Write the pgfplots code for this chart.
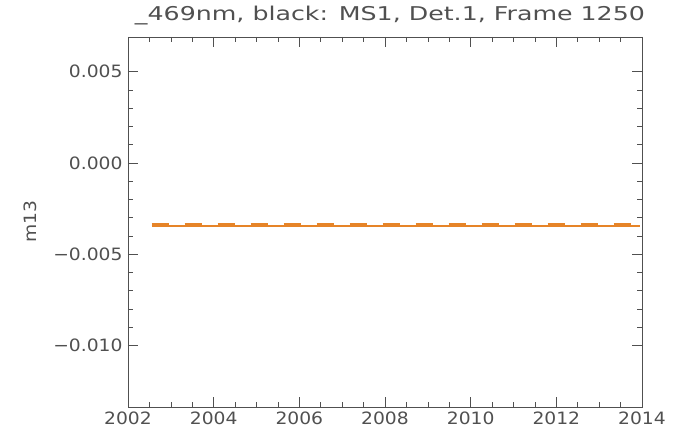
\documentclass[border=0pt]{standalone}
\usepackage{fontspec}
\setmainfont{DejaVu Sans}
\newfontfamily\hfont[FakeStretch=1.1]{DejaVu Sans}
\newfontfamily\tfont[FakeStretch=1.33]{DejaVu Sans}
\usepackage{pgfplots}
\pgfplotsset{compat=1.18}
\definecolor{lc}{RGB}{230,132,40}
\definecolor{tc}{RGB}{80,80,80}
\begin{document}
\begin{tikzpicture}
\useasboundingbox (-128pt,-31pt) rectangle (547pt,407pt);
\begin{axis}[
  scale only axis, width=514pt, height=370pt,
  xmin=2002, xmax=2014, ymin=-0.01337, ymax=0.0069,
  xtick={2002,2004,2006,2008,2010,2012,2014},
  xticklabels={2002,2004,2006,2008,2010,2012,2014},
  minor x tick num=3,
  ytick={-0.010,-0.005,0,0.005},
  yticklabels={−0.010,−0.005,0.000,0.005},
  minor y tick num=4,
  tick align=inside, major tick length=10pt, minor tick length=5pt,
  axis line style={tc, line width=0.8pt},
  every tick/.style={tc, line width=0.6pt},
  ticklabel style={font=\hfont\fontsize{17}{20}\selectfont, text=tc},
  xticklabel style={yshift=-1pt},
  yticklabel style={xshift=-2pt},
  scaled y ticks=false,
  clip=false,
]
\addplot[lc, line width=1.2pt] coordinates {
 (2002.55,-0.00345) (2004,-0.00345) (2006,-0.00345) (2008,-0.00345) (2010,-0.00345) (2012,-0.00345) (2013.95,-0.00345)
};
\addplot[lc, line width=3.5pt, dash pattern=on 17pt off 16pt] coordinates {
 (2002.55,-0.00338) (2004,-0.00338) (2006,-0.00338) (2008,-0.00338) (2010,-0.00338) (2012,-0.00338) (2013.95,-0.00338)
};
\node[anchor=base, text=tc, font=\tfont\fontsize{19}{22}\selectfont] at (rel axis cs:0.5,1) [yshift=16pt, xshift=5pt] {\_469nm, black: MS1, Det.1, Frame 1250};
\node[xshift=-98pt, rotate=90, text=tc, font=\hfont\fontsize{17}{20}\selectfont] at (rel axis cs:0,0.5) {m13};
\end{axis}
\end{tikzpicture}
\end{document}
